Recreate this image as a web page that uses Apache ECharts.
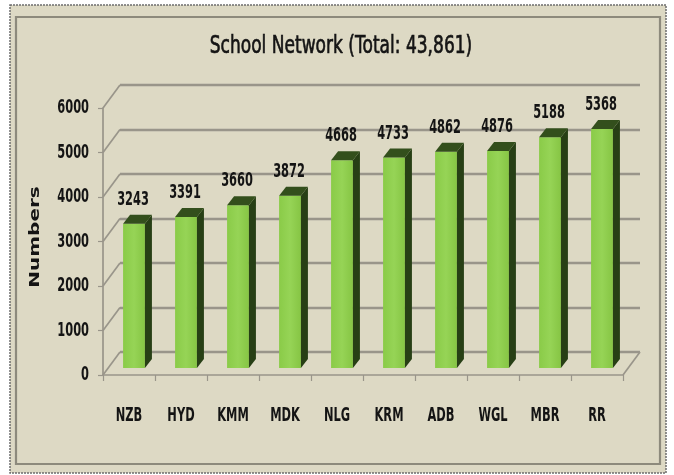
<!DOCTYPE html>
<html>
<head>
<meta charset="utf-8">
<script src="https://cdn.jsdelivr.net/npm/echarts@6/dist/echarts.min.js"></script>
<style>
  html, body { margin: 0; padding: 0; background: #ffffff; }
  #chart { width: 674px; height: 475px; }
</style>
</head>
<body>
<div id="chart"></div>
<script>
// District-wise school counts
const categories = ['NZB', 'HYD', 'KMM', 'MDK', 'NLG', 'KRM', 'ADB', 'WGL', 'MBR', 'RR'];
const schools = [3243, 3391, 3660, 3872, 4668, 4733, 4862, 4876, 5188, 5368];
const yTicks = [0, 1000, 2000, 3000, 4000, 5000, 6000];
const chartTitle = 'School Network (Total: 43,861)';
const yAxisName = 'Numbers';

// Layout of the pseudo-3D box: front plane and the offset of the back wall
const FRONT = { left: 103, top: 108, width: 520, height: 267 };
const DEPTH = [17, -23];
const BAR_OFFSET = [5, -7];   // front face of the bars sits inside the box
const BAR_DEPTH = [7, -9];
const BAR_WIDTH_RATIO = 0.42;

const BG = '#ddd9c4';
const GRID_COLOR = '#99958a';
const SIDE_GREEN = '#273f15';
const TOP_GREEN = '#334f1c';
const TEXT_COLOR = '#141414';
const LABEL_FONT = 'bold 20px "DejaVu Sans", sans-serif';
const LABEL_SQUEEZE = 0.57;   // tall, narrow lettering

const yMin = yTicks[0];
const yMax = yTicks[yTicks.length - 1];
const yStep = yTicks[1] - yTicks[0];

const chart = echarts.init(document.getElementById('chart'), null, { renderer: 'canvas' });

function squeezedText(text, x, y, align, vAlign, font, squeeze) {
  return {
    type: 'text', x: x, y: y, scaleX: squeeze,
    style: { text: text, x: 0, y: 0, align: align, verticalAlign: vAlign, font: font, fill: TEXT_COLOR }
  };
}

// Slanted lines joining the front value axis to the back wall, the floor's right edge,
// and the value labels of the axis
function renderValueScale(params, api) {
  const cs = params.coordSys;
  const v = api.value(1);
  const y = api.coord([0, v])[1];
  const lineStyle = { stroke: GRID_COLOR, lineWidth: 1.7 };
  const children = [
    {
      type: 'line',
      shape: { x1: cs.x, y1: y, x2: cs.x + DEPTH[0], y2: y + DEPTH[1] },
      style: lineStyle
    },
    squeezedText(String(v), cs.x - 14, y, 'right', 'middle', LABEL_FONT, LABEL_SQUEEZE)
  ];
  if (v === yMin) {
    children.push({
      type: 'line',
      shape: { x1: cs.x + cs.width, y1: y, x2: cs.x + cs.width + DEPTH[0], y2: y + DEPTH[1] },
      style: lineStyle
    });
  }
  return { type: 'group', children: children };
}

// Category names under the floor
function renderCategoryLabel(params, api) {
  const p = api.coord([api.value(0), yMin]);
  return squeezedText(categories[params.dataIndex], p[0], p[1] + 41, 'center', 'middle',
    LABEL_FONT, LABEL_SQUEEZE);
}

// Box-shaped bar: front face, right side, top face and value text
function renderBar(params, api) {
  const idx = api.value(0);
  const val = api.value(1);
  const base = api.coord([idx, yMin]);
  const top = api.coord([idx, val]);
  const band = api.size([1, 0])[0];
  const w = band * BAR_WIDTH_RATIO;
  const xl = base[0] - w / 2 + BAR_OFFSET[0];
  const xr = xl + w;
  const yb = base[1] + BAR_OFFSET[1];
  const yt = top[1] + BAR_OFFSET[1];
  const dx = BAR_DEPTH[0], dy = BAR_DEPTH[1];
  return {
    type: 'group',
    children: [
      {
        type: 'rect',
        shape: { x: xl, y: yt, width: w, height: yb - yt },
        style: {
          fill: new echarts.graphic.LinearGradient(0, 0, 1, 0, [
            { offset: 0, color: '#8acb48' },
            { offset: 0.5, color: '#96d456' },
            { offset: 1, color: '#86c544' }
          ])
        }
      },
      {
        type: 'polygon',
        shape: { points: [[xr, yb], [xr + dx, yb + dy], [xr + dx, yt + dy], [xr, yt]] },
        style: { fill: SIDE_GREEN }
      },
      {
        type: 'polygon',
        shape: { points: [[xl, yt], [xl + dx, yt + dy], [xr + dx, yt + dy], [xr, yt]] },
        style: { fill: TOP_GREEN }
      },
      squeezedText(String(val), (xl + xr) / 2 - 1, yt + dy - 5, 'center', 'bottom',
        LABEL_FONT, LABEL_SQUEEZE)
    ]
  };
}

const option = {
  backgroundColor: '#ffffff',
  animation: false,
  graphic: [
    {
      type: 'rect', z: -10,
      shape: { x: 10, y: 5, width: 656, height: 468 },
      style: { fill: BG, stroke: '#6e6e6e', lineWidth: 1.5, lineDash: [2, 1] }
    },
    {
      type: 'rect', z: -9,
      shape: { x: 16, y: 17, width: 644, height: 447 },
      style: { fill: BG, stroke: '#8d8a7c', lineWidth: 2.2 }
    },
    {
      type: 'text', z: 5,
      x: 341, y: 47, scaleX: 0.71,
      style: {
        text: chartTitle, x: 0, y: 0, align: 'center', verticalAlign: 'middle',
        font: '24px "DejaVu Sans", sans-serif', fill: TEXT_COLOR,
        stroke: TEXT_COLOR, lineWidth: 0.7
      }
    },
    {
      type: 'text', z: 5,
      x: 35, y: 237, rotation: Math.PI / 2, scaleY: 0.68,
      style: {
        text: yAxisName, x: 0, y: 0, align: 'center', verticalAlign: 'middle',
        font: 'bold 20px "DejaVu Sans", sans-serif', fill: TEXT_COLOR
      }
    }
  ],
  grid: [
    { left: FRONT.left, top: FRONT.top, width: FRONT.width, height: FRONT.height },
    { left: FRONT.left + DEPTH[0], top: FRONT.top + DEPTH[1], width: FRONT.width, height: FRONT.height }
  ],
  xAxis: [
    {
      type: 'category', gridIndex: 0, data: categories,
      axisLine: { lineStyle: { color: GRID_COLOR, width: 1.7 } },
      axisTick: { show: true, interval: 0, length: 6, lineStyle: { color: GRID_COLOR, width: 1.2 } },
      axisLabel: { show: false },
      splitLine: { show: false }
    },
    {
      type: 'category', gridIndex: 1, data: categories,
      axisLine: { show: false }, axisTick: { show: false }, axisLabel: { show: false }
    }
  ],
  yAxis: [
    {
      type: 'value', gridIndex: 0, min: yMin, max: yMax, interval: yStep,
      axisLine: { show: true, lineStyle: { color: GRID_COLOR, width: 1.7 } },
      axisTick: { show: true, length: 5, lineStyle: { color: GRID_COLOR, width: 1.2 } },
      axisLabel: { show: false },
      splitLine: { show: false }
    },
    {
      type: 'value', gridIndex: 1, min: yMin, max: yMax, interval: yStep,
      axisLine: { show: false }, axisTick: { show: false }, axisLabel: { show: false },
      splitLine: { show: true, lineStyle: { color: GRID_COLOR, width: 2.4 } }
    }
  ],
  series: [
    {
      type: 'custom', name: 'scale', xAxisIndex: 0, yAxisIndex: 0, z: 1,
      data: yTicks.map(v => [0, v]),
      renderItem: renderValueScale,
      silent: true
    },
    {
      type: 'custom', name: 'categories', xAxisIndex: 0, yAxisIndex: 0, z: 1,
      data: categories.map((c, i) => [i, yMin]),
      renderItem: renderCategoryLabel,
      silent: true
    },
    {
      type: 'custom', name: 'Schools', xAxisIndex: 0, yAxisIndex: 0, z: 3,
      data: schools.map((v, i) => [i, v]),
      encode: { x: 0, y: 1 },
      renderItem: renderBar
    }
  ]
};

chart.setOption(option);
</script>
</body>
</html>
